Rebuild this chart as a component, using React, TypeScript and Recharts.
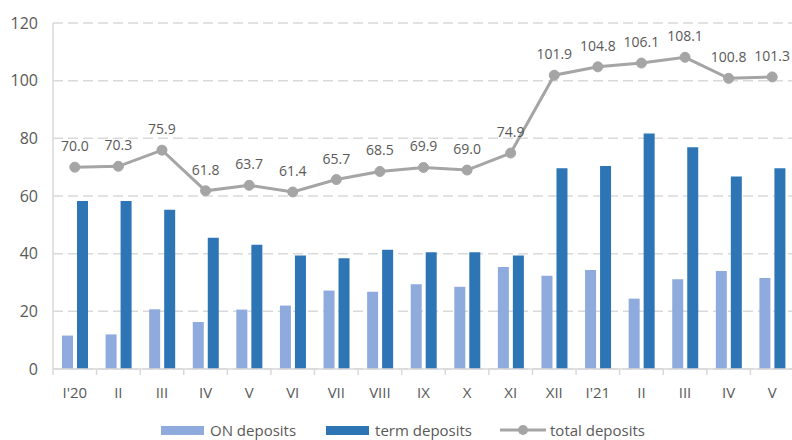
import {
  ComposedChart,
  Bar,
  Line,
  XAxis,
  YAxis,
  CartesianGrid,
  Legend,
  LabelList,
} from "recharts";

const months = ["I'20", "II", "III", "IV", "V", "VI", "VII", "VIII", "IX", "X", "XI", "XII", "I'21", "II", "III", "IV", "V"];
const onDeposits = [11.6, 12.0, 20.7, 16.3, 20.6, 22.0, 27.2, 26.8, 29.4, 28.5, 35.4, 32.3, 34.3, 24.4, 31.1, 34.0, 31.6];
const termDeposits = [58.3, 58.3, 55.2, 45.5, 43.1, 39.4, 38.4, 41.4, 40.5, 40.5, 39.4, 69.6, 70.4, 81.7, 76.9, 66.8, 69.6];
const totalDeposits = [70.0, 70.3, 75.9, 61.8, 63.7, 61.4, 65.7, 68.5, 69.9, 69.0, 74.9, 101.9, 104.8, 106.1, 108.1, 100.8, 101.3];
const yTicks = [0, 20, 40, 60, 80, 100, 120];

const FONT = "'Open Sans', 'Noto Sans', sans-serif";
const TEXT = "#595959";
const ON_COLOR = "#8FAADC";
const TERM_COLOR = "#2E75B6";
const TOTAL_COLOR = "#A5A5A5";
const GRID = "#D9D9D9";

const WIDTH = 794;
const LEFT = 53;
const BAND = (WIDTH - LEFT) / months.length;

const data = months.map((m, i) => ({
  month: m,
  on: onDeposits[i],
  term: termDeposits[i],
  total: totalDeposits[i],
}));

// category label plus a short tick at the left edge of each band
function MonthTick(props: any) {
  const { x, y, payload } = props;
  const bx = x - BAND / 2;
  return (
    <g>
      <line x1={bx} y1={y} x2={bx} y2={y + 6} stroke={GRID} strokeWidth={1.5} />
      <text x={x} y={y + 29} textAnchor="middle" fill={TEXT} fontSize={15} fontFamily={FONT}>
        {payload.value}
      </text>
    </g>
  );
}

function renderLegend() {
  const label = { fontSize: 15, color: TEXT, fontFamily: FONT, marginLeft: 6 };
  return (
    <div style={{ display: "flex", justifyContent: "center", alignItems: "center", paddingLeft: 12, paddingTop: 4 }}>
      <div style={{ display: "flex", alignItems: "center", marginRight: 30 }}>
        <span style={{ width: 43, height: 9, background: ON_COLOR, display: "inline-block" }} />
        <span style={label}>ON deposits</span>
      </div>
      <div style={{ display: "flex", alignItems: "center", marginRight: 28 }}>
        <span style={{ width: 43, height: 9, background: TERM_COLOR, display: "inline-block" }} />
        <span style={label}>term deposits</span>
      </div>
      <div style={{ display: "flex", alignItems: "center" }}>
        <svg width={46} height={12}>
          <line x1={0} y1={6} x2={46} y2={6} stroke={TOTAL_COLOR} strokeWidth={3} />
          <circle cx={23} cy={6} r={5} fill={TOTAL_COLOR} />
        </svg>
        <span style={{ ...label, marginLeft: 4 }}>total deposits</span>
      </div>
    </div>
  );
}

export default function App() {
  return (
    <div style={{ width: 792, height: 440, overflow: "hidden", background: "#fff" }}>
      <style>{"body{margin:0}"}</style>
      <ComposedChart
        width={WIDTH}
        height={440}
        data={data}
        margin={{ top: 23, right: 0, left: 0, bottom: 0 }}
        barSize={11}
        barGap={4}
      >
        <CartesianGrid vertical={false} stroke={GRID} strokeDasharray="10 5" strokeWidth={1.5} />
        <XAxis
          dataKey="month"
          height={47}
          tickLine={false}
          tickSize={0}
          tickMargin={0}
          axisLine={{ stroke: GRID, strokeWidth: 1.5 }}
          tick={<MonthTick />}
          interval={0}
        />
        <YAxis
          width={LEFT}
          domain={[0, 120]}
          ticks={yTicks}
          tickLine={false}
          tickSize={0}
          tickMargin={15}
          axisLine={{ stroke: GRID, strokeWidth: 1.5 }}
          tick={{ fill: TEXT, fontSize: 16, fontFamily: FONT }}
        />
        <Legend verticalAlign="bottom" height={24} content={renderLegend} />
        <Bar dataKey="on" name="ON deposits" fill={ON_COLOR} isAnimationActive={false} />
        <Bar dataKey="term" name="term deposits" fill={TERM_COLOR} isAnimationActive={false} />
        <Line
          dataKey="total"
          name="total deposits"
          stroke={TOTAL_COLOR}
          strokeWidth={3}
          dot={{ r: 5, fill: TOTAL_COLOR, stroke: TOTAL_COLOR, strokeWidth: 1 }}
          isAnimationActive={false}
        >
          <LabelList
            dataKey="total"
            position="top"
            offset={16}
            formatter={(v: any) => Number(v).toFixed(1)}
            fill={TEXT}
            fontSize={14}
            fontFamily={FONT}
          />
        </Line>
      </ComposedChart>
    </div>
  );
}
